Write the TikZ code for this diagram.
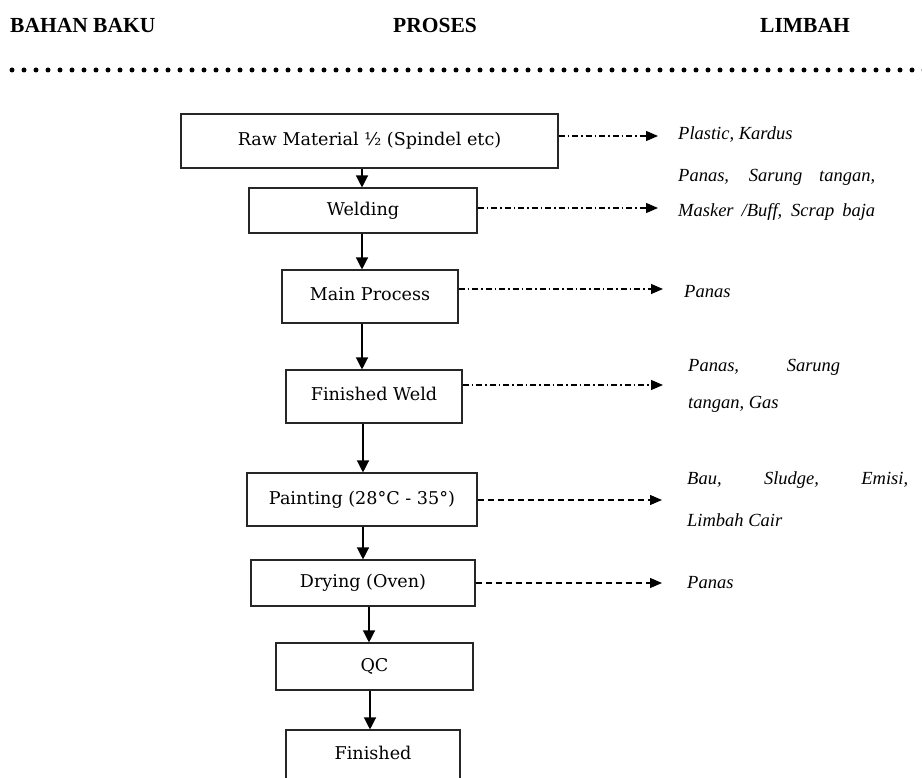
\documentclass[tikz,border=0pt]{standalone}
\usepackage{fontspec}
\setmainfont{DejaVu Serif}
\newfontfamily\hdfont{Liberation Serif}
\newfontfamily\lblfont{Liberation Serif}
\usetikzlibrary{arrows.meta}
\tikzset{
  box/.style={draw=black!85, line width=1.1pt, inner sep=0pt, font=\fontsize{17.6}{20}\selectfont},
  hd/.style={anchor=base west, inner sep=0pt, font=\hdfont\bfseries\fontsize{21.5}{24}\selectfont},
  lbl/.style={anchor=base west, inner sep=0pt, font=\lblfont\itshape\fontsize{18.5}{20}\selectfont},
  flow/.style={line width=1.3pt, -{Triangle[length=12pt,width=12pt]}},
  dashdot/.style={line width=1.1pt, dash pattern=on 6pt off 3pt on 1.5pt off 3pt, -{Triangle[length=12pt,width=10pt]}},
  dash2/.style={line width=1.1pt, dash pattern=on 6pt off 4pt, -{Triangle[length=12pt,width=10pt]}},
}
\begin{document}
\begin{tikzpicture}[x=1pt,y=-1pt]
\useasboundingbox (0,0) rectangle (922,778);
\clip (0,0) rectangle (922,778);
% headers
\node[hd] (h1) at (10,33) {BAHAN BAKU};
\node[hd] (h2) at (393,33) {PROSES};
\node[hd] (h3) at (760,33) {LIMBAH};
\draw[line width=5pt, line cap=round, dash pattern=on 0pt off 12pt] (12,70) -- (930,70);
% process boxes
\node[box, minimum width=377pt, minimum height=54pt] (raw) at (369.5,141) {Raw Material ½ (Spindel etc)};
\node[box, minimum width=228pt, minimum height=45pt] (weld) at (363,210.5) {Welding};
\node[box, minimum width=176pt, minimum height=53pt, text height=17pt, text depth=9pt] (main) at (370,296.5) {Main Process};
\node[box, minimum width=176pt, minimum height=53pt, text height=17pt, text depth=9pt] (fweld) at (374,396.5) {Finished Weld};
\node[box, minimum width=230pt, minimum height=53pt] (paint) at (362,499.5) {Painting (28°C - 35°)};
\node[box, minimum width=224pt, minimum height=46pt] (dry) at (363,583) {Drying (Oven)};
\node[box, minimum width=197pt, minimum height=47pt] (qc) at (374.5,666.5) {QC};
\node[box, minimum width=174pt, minimum height=60pt] (fin) at (373,760) {};
\node[inner sep=0pt, font=\fontsize{17.6}{20}\selectfont] (fint) at (373,753) {Finished};
% flow arrows
\draw[flow] (raw.south -| 362,0) -- (weld.north -| 362,0);
\draw[flow] (weld.south -| 362,0) -- (main.north -| 362,0);
\draw[flow] (main.south -| 362,0) -- (fweld.north -| 362,0);
\draw[flow] (fweld.south -| 363,0) -- (paint.north -| 363,0);
\draw[flow] (paint.south -| 363,0) -- (dry.north -| 363,0);
\draw[flow] (dry.south -| 369,0) -- (qc.north -| 369,0);
\draw[flow] (qc.south -| 370,0) -- (fin.north -| 370,0);
% waste labels
\node[lbl] (w1) at (678,140) {Plastic, Kardus};
\node[lbl] (w2a) at (678,182) {\makebox[197pt][s]{Panas, Sarung tangan,}};
\node[lbl] (w2b) at (678,217) {\makebox[197pt][s]{Masker /Buff, Scrap baja}};
\node[lbl] (w3) at (684,298) {Panas};
\node[lbl] (w4a) at (688,371) {\makebox[152pt][s]{Panas, Sarung}};
\node[lbl] (w4b) at (688,408) {tangan, Gas};
\node[lbl] (w5a) at (687,484) {\makebox[221pt][s]{Bau, Sludge, Emisi,}};
\node[lbl] (w5b) at (687,526) {Limbah Cair};
\node[lbl] (w6) at (687,588) {Panas};
\coordinate (e1) at (658,136);
\coordinate (e2) at (658,208);
\coordinate (e3) at (663,289);
\coordinate (e4) at (663,385);
\coordinate (e5) at (662,500);
\coordinate (e6) at (662,583);
% waste arrows
\draw[dashdot] (raw.east |- e1) -- (e1);
\draw[dashdot] (weld.east |- e2) -- (e2);
\draw[dashdot] (main.east |- e3) -- (e3);
\draw[dashdot] (fweld.east |- e4) -- (e4);
\draw[dash2] (paint.east |- e5) -- (e5);
\draw[dash2] (dry.east |- e6) -- (e6);
\end{tikzpicture}
\end{document}
